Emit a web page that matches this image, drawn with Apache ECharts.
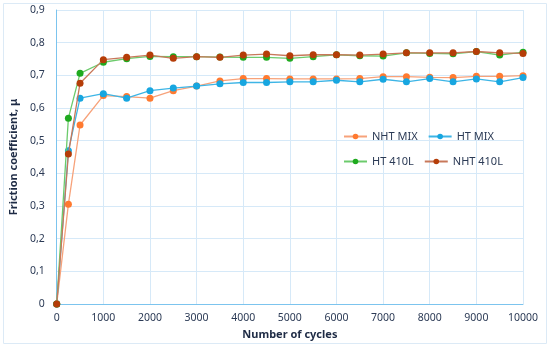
<!DOCTYPE html>
<html><head><meta charset="utf-8">
<script src="https://cdn.jsdelivr.net/npm/echarts@6/dist/echarts.min.js"></script>
<style>html,body{margin:0;padding:0;background:#fff}#c{width:550px;height:349px}</style>
</head><body><div id="c"></div>
<script>
var cycles = [0, 250, 500, 1000, 1500, 2000, 2500, 3000, 3500, 4000, 4500, 5000, 5500, 6000, 6500, 7000, 7500, 8000, 8500, 9000, 9500, 10000];
var nhtMix = [0, 0.305, 0.548, 0.638, 0.635, 0.630, 0.653, 0.667, 0.683, 0.690, 0.690, 0.689, 0.689, 0.689, 0.690, 0.696, 0.696, 0.694, 0.693, 0.697, 0.697, 0.699];
var htMix = [0, 0.469, 0.630, 0.644, 0.630, 0.653, 0.661, 0.667, 0.674, 0.678, 0.678, 0.680, 0.680, 0.685, 0.680, 0.688, 0.680, 0.690, 0.680, 0.689, 0.680, 0.693];
var ht410 = [0, 0.569, 0.706, 0.740, 0.751, 0.758, 0.757, 0.757, 0.756, 0.755, 0.755, 0.752, 0.757, 0.763, 0.760, 0.759, 0.769, 0.767, 0.766, 0.773, 0.762, 0.771];
var nht410 = [0, 0.459, 0.676, 0.748, 0.755, 0.762, 0.752, 0.757, 0.755, 0.762, 0.765, 0.760, 0.763, 0.763, 0.762, 0.765, 0.769, 0.769, 0.769, 0.773, 0.769, 0.767];
var seriesNames = ['NHT MIX', 'HT MIX', 'HT 410L', 'NHT 410L'];
var seriesData = [nhtMix, htMix, ht410, nht410];
var markerColors = ['#FF7A30', '#17A6E0', '#1FAA1F', '#B53D08'];
var lineColors = ['#F7A27A', '#3DB5E6', '#6CCB6C', '#C8785A'];

function pairs(vals){ return cycles.map(function(c,i){ return [c, vals[i]]; }); }

var chart = echarts.init(document.getElementById('c'));
var txt = '#2B3A55';
var legendBase = {
  itemGap: 10, itemWidth: 23, itemHeight: 7, orient: 'horizontal', padding: 0,
  textStyle: {color: txt, fontSize: 11, fontFamily: 'Noto Sans', width: 58}
};
chart.setOption({
  animation: false,
  graphic: [{type:'rect', shape:{x:3.5,y:3.5,width:543,height:340}, style:{fill:'none', stroke:'#DCEAF6', lineWidth:1}}],
  grid: {left: 54, right: 27, top: 10, bottom: 45, containLabel: false},
  legend: [
    Object.assign({left: 343, top: 131, data: ['NHT MIX', 'HT MIX']}, legendBase),
    Object.assign({left: 343, top: 156, data: ['HT 410L', 'NHT 410L']}, legendBase)
  ],
  xAxis: {
    type: 'value', min: 0, max: 10000, interval: 1000,
    name: 'Number of cycles', nameLocation: 'middle', nameGap: 24,
    nameTextStyle: {color: '#1E2B45', fontWeight: 'bold', fontSize: 11, fontFamily: 'Noto Sans'},
    axisLine: {lineStyle: {color: '#7CC4EE'}},
    axisTick: {show: false},
    axisLabel: {color: txt, fontSize: 10.5, fontFamily: 'Noto Sans', margin: 9,
      formatter: function(v){ return String(v); }},
    splitLine: {lineStyle: {color: '#D6E9F8'}}
  },
  yAxis: {
    type: 'value', min: 0, max: 0.9, interval: 0.1,
    name: 'Friction coefficient, μ', nameLocation: 'middle', nameGap: 34, nameRotate: 90,
    nameTextStyle: {color: '#1E2B45', fontWeight: 'bold', fontSize: 11, fontFamily: 'Noto Sans'},
    axisLine: {show: true, lineStyle: {color: '#7CC4EE'}},
    axisTick: {show: false},
    axisLabel: {color: txt, fontSize: 10.5, fontFamily: 'Noto Sans', margin: 12,
      formatter: function(v){ return v === 0 ? '0' : v.toFixed(1).replace('.', ','); }},
    splitLine: {lineStyle: {color: '#D6E9F8'}}
  },
  series: seriesNames.map(function(n, i){
    return {
      name: n, type: 'line', data: pairs(seriesData[i]),
      symbol: 'circle', symbolSize: 7,
      itemStyle: {color: markerColors[i]},
      lineStyle: {color: lineColors[i], width: 1.3},
      z: [2,3,4,5][i]
    };
  })
});
</script></body></html>
